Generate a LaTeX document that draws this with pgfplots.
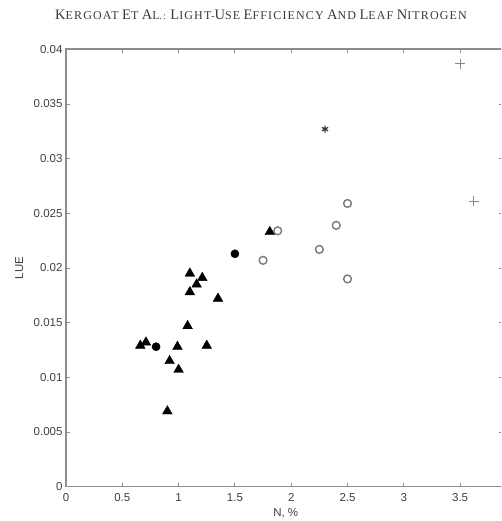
\documentclass[border=0pt]{standalone}
\usepackage{pgfplots}
\pgfplotsset{compat=1.18}
\usepackage{fontspec}
\setmainfont{Liberation Serif}
\newfontfamily\lsans{Liberation Sans}
\newfontfamily\titlefont[LetterSpace=9.5]{Liberation Serif}

\definecolor{axisgray}{HTML}{8C8C8C}
\definecolor{labelgray}{HTML}{404040}
\definecolor{titlegray}{HTML}{3A3A3A}
\definecolor{opengray}{HTML}{7A7A7A}
\definecolor{plusgray}{HTML}{8A8A8A}

% small capitals built from two sizes of the upright face
\newcommand{\Sc}[2]{{\fontsize{14.5}{16}\selectfont #1}{\fontsize{12}{14}\selectfont #2}}

% light-use efficiency against leaf nitrogen, one table per group
\pgfplotstableread{
N     LUE
1.10  0.0195
1.21  0.0191
1.16  0.0185
1.10  0.0178
1.35  0.0172
1.08  0.0147
0.66  0.0129
0.71  0.0132
0.99  0.0128
1.25  0.0129
0.92  0.0115
1.00  0.0107
0.90  0.0069
1.81  0.0233
}\grpTriangle
\pgfplotstableread{
N     LUE
1.50  0.0213
0.80  0.0128
}\grpDisc
\pgfplotstableread{
N     LUE
1.75  0.0207
1.88  0.0234
2.25  0.0217
2.40  0.0239
2.50  0.0259
2.50  0.0190
}\grpRing
\pgfplotstableread{
N     LUE
3.50  0.0387
3.62  0.0261
}\grpCross
\pgfplotstableread{
N     LUE
2.30  0.0327
}\grpStar

\begin{document}
\begin{tikzpicture}
\path[use as bounding box] (0pt,0pt) rectangle (501pt,521pt);
\clip (0pt,0pt) rectangle (501pt,521pt);
\node[text=titlegray, anchor=center, font=\titlefont] at (261pt,506pt)
  {\Sc{K}{ERGOAT} \Sc{E}{T} \Sc{A}{L}.: \Sc{L}{IGHT}-\Sc{U}{SE} \Sc{E}{FFICIENCY} \Sc{A}{ND} \Sc{L}{EAF} \Sc{N}{ITROGEN}};
\begin{axis}[
  at={(66pt,34.3pt)}, anchor=south west,
  scale only axis, width=436.9pt, height=437.4pt,
  xmin=0, xmax=3.88, ymin=0, ymax=0.04,
  scaled y ticks=false, scaled x ticks=false,
  axis line style={draw=axisgray, line width=1.6pt},
  tick style={draw=axisgray, line width=0.9pt},
  major tick length=4pt,
  tick align=inside,
  xtick={0,0.5,1,1.5,2,2.5,3,3.5},
  xticklabels={0,0.5,1,1.5,2,2.5,3,3.5},
  ytick={0,0.005,0.01,0.015,0.02,0.025,0.03,0.035,0.04},
  yticklabels={0,0.005,0.01,0.015,0.02,0.025,0.03,0.035,0.04},
  ticklabel style={font=\lsans\fontsize{11.5}{13}\selectfont, text=labelgray},
  xticklabel style={yshift=-3pt},
  xlabel={N, \%}, ylabel={LUE},
  label style={font=\lsans\fontsize{11.5}{13}\selectfont, text=labelgray},
  xlabel style={at={(axis description cs:0.503,-0.06)}, anchor=center},
  ylabel style={at={(axis description cs:-0.107,0.5)}, anchor=center, rotate=0},
  clip=false,
]
\addplot[only marks, mark=triangle*, mark size=5.6pt,
  mark options={fill=black, draw=black, line width=0.4pt}]
  table[x=N, y=LUE] {\grpTriangle};
\addplot[only marks, mark=*, mark size=4.1pt,
  mark options={fill=black, draw=black, line width=0.4pt}]
  table[x=N, y=LUE] {\grpDisc};
\addplot[only marks, mark=o, mark size=3.9pt,
  mark options={draw=opengray, fill=white, line width=1.4pt}]
  table[x=N, y=LUE] {\grpRing};
\addplot[only marks, mark=+, mark size=5pt,
  mark options={draw=plusgray, line width=1.2pt}]
  table[x=N, y=LUE] {\grpCross};
\addplot[only marks, mark=asterisk, mark size=3.6pt,
  mark options={draw=titlegray, line width=1.3pt}]
  table[x=N, y=LUE] {\grpStar};
\end{axis}
\end{tikzpicture}
\end{document}
